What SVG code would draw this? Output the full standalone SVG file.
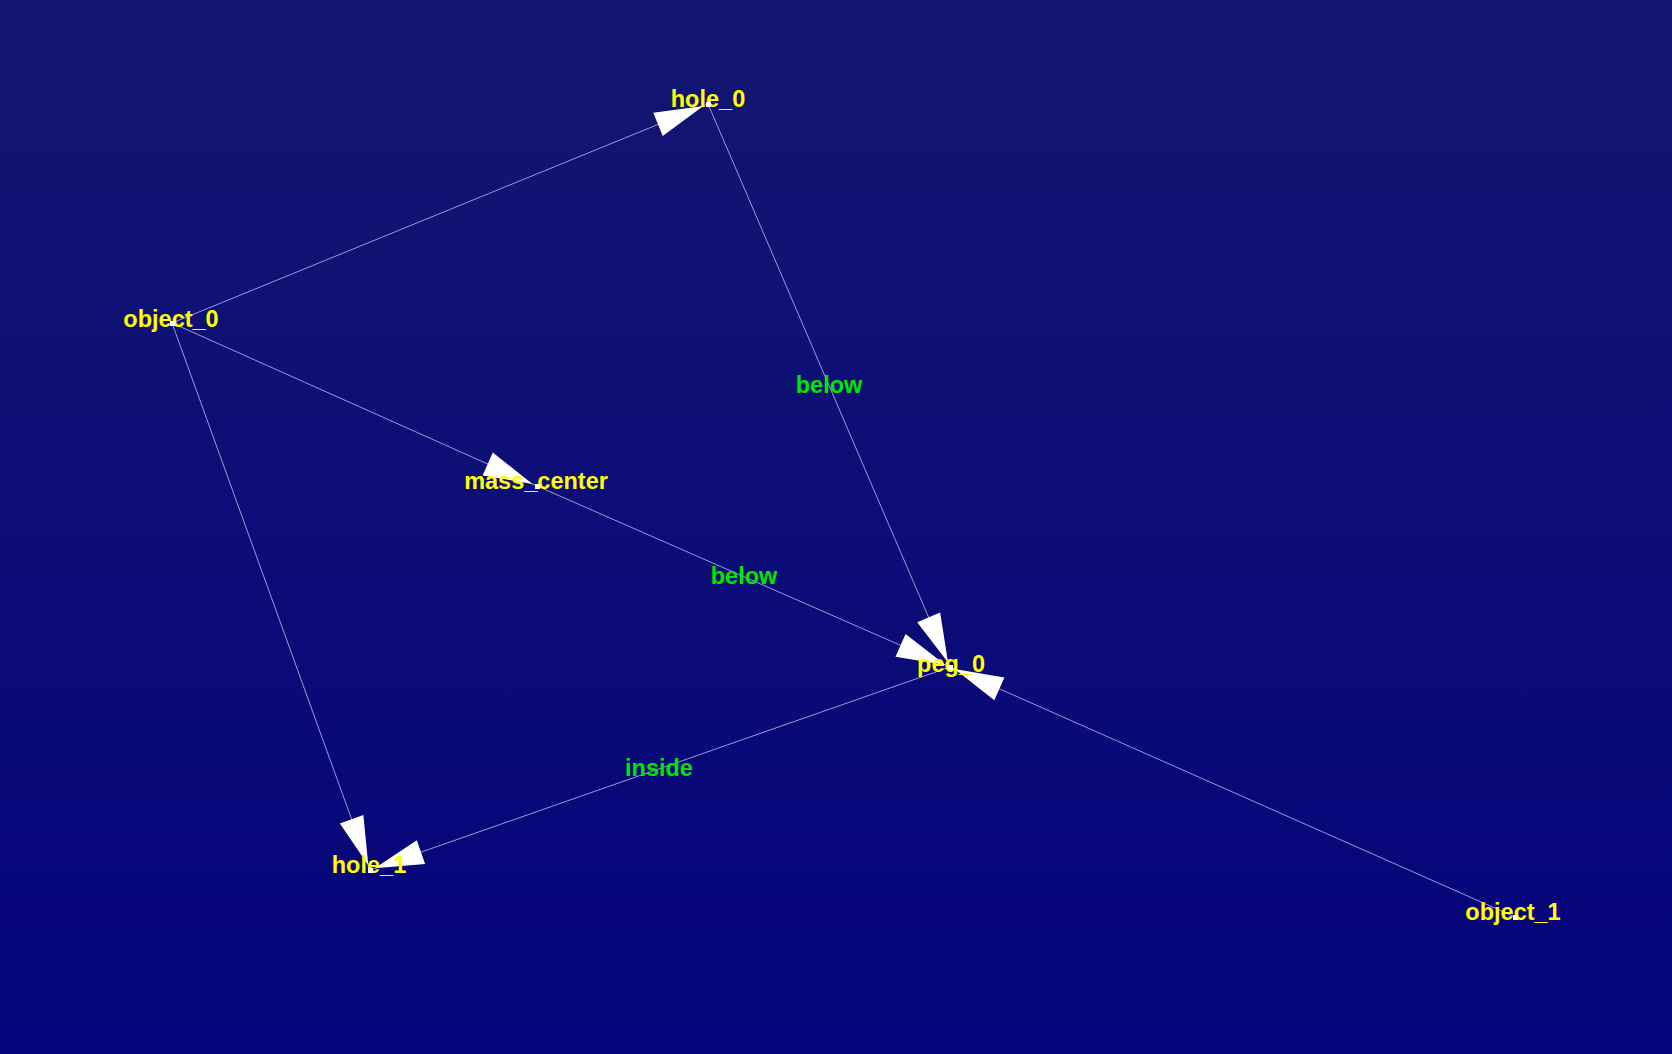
<svg xmlns="http://www.w3.org/2000/svg" width="1672" height="1054" viewBox="0 0 1672 1054">
<defs>
<linearGradient id="bg" x1="0" y1="0" x2="0" y2="1">
<stop offset="0" stop-color="#141671"/>
<stop offset="1" stop-color="#04047c"/>
</linearGradient>
<marker id="arr" markerUnits="userSpaceOnUse" markerWidth="60" markerHeight="26" refX="54" refY="12.5" orient="auto" overflow="visible">
<path d="M0,0 L49,12.5 L0,25 Z" fill="#ffffff"/>
</marker>
</defs>
<style>
.e{stroke:#9a9ad6;stroke-width:1;fill:none;marker-end:url(#arr)}
.n{font-family:"Liberation Sans",Arial,sans-serif;font-weight:bold;font-size:23.5px;fill:#ffff00;text-anchor:middle}
.l{font-family:"Liberation Sans",Arial,sans-serif;font-weight:bold;font-size:23.5px;fill:#00e600;text-anchor:middle}
.p{fill:#ffffff}
</style>
<rect x="0" y="0" width="1672" height="1054" fill="url(#bg)"/>
<g id="connectors">
<line class="e" x1="172" y1="323" x2="708" y2="104"/>
<line class="e" x1="172" y1="323" x2="537" y2="486"/>
<line class="e" x1="172" y1="323" x2="370" y2="870"/>
<line class="e" x1="708" y1="104" x2="950" y2="667"/>
<line class="e" x1="537" y1="486" x2="950" y2="667"/>
<line class="e" x1="950" y1="667" x2="370" y2="870"/>
<line class="e" x1="1515" y1="917" x2="950" y2="667"/>
<text class="l" x="829" y="393">below</text>
<text class="l" x="744" y="584">below</text>
<text class="l" x="659" y="776">inside</text>
</g>
<g id="object_0"><text class="n" x="171" y="327">object_0</text><rect class="p" x="170" y="321" width="5" height="5"/></g>
<g id="hole_0"><text class="n" x="708" y="107">hole_0</text><rect class="p" x="706" y="102" width="5" height="5"/></g>
<g id="mass_center"><text class="n" x="536" y="489">mass_center</text><rect class="p" x="535" y="484" width="5" height="5"/></g>
<g id="peg_0"><text class="n" x="951" y="672">peg_0</text><rect class="p" x="948" y="665" width="5" height="5"/></g>
<g id="hole_1"><text class="n" x="369" y="873">hole_1</text><rect class="p" x="368" y="868" width="5" height="5"/></g>
<g id="object_1"><text class="n" x="1513" y="920">object_1</text><rect class="p" x="1513" y="915" width="5" height="5"/></g>
</svg>
